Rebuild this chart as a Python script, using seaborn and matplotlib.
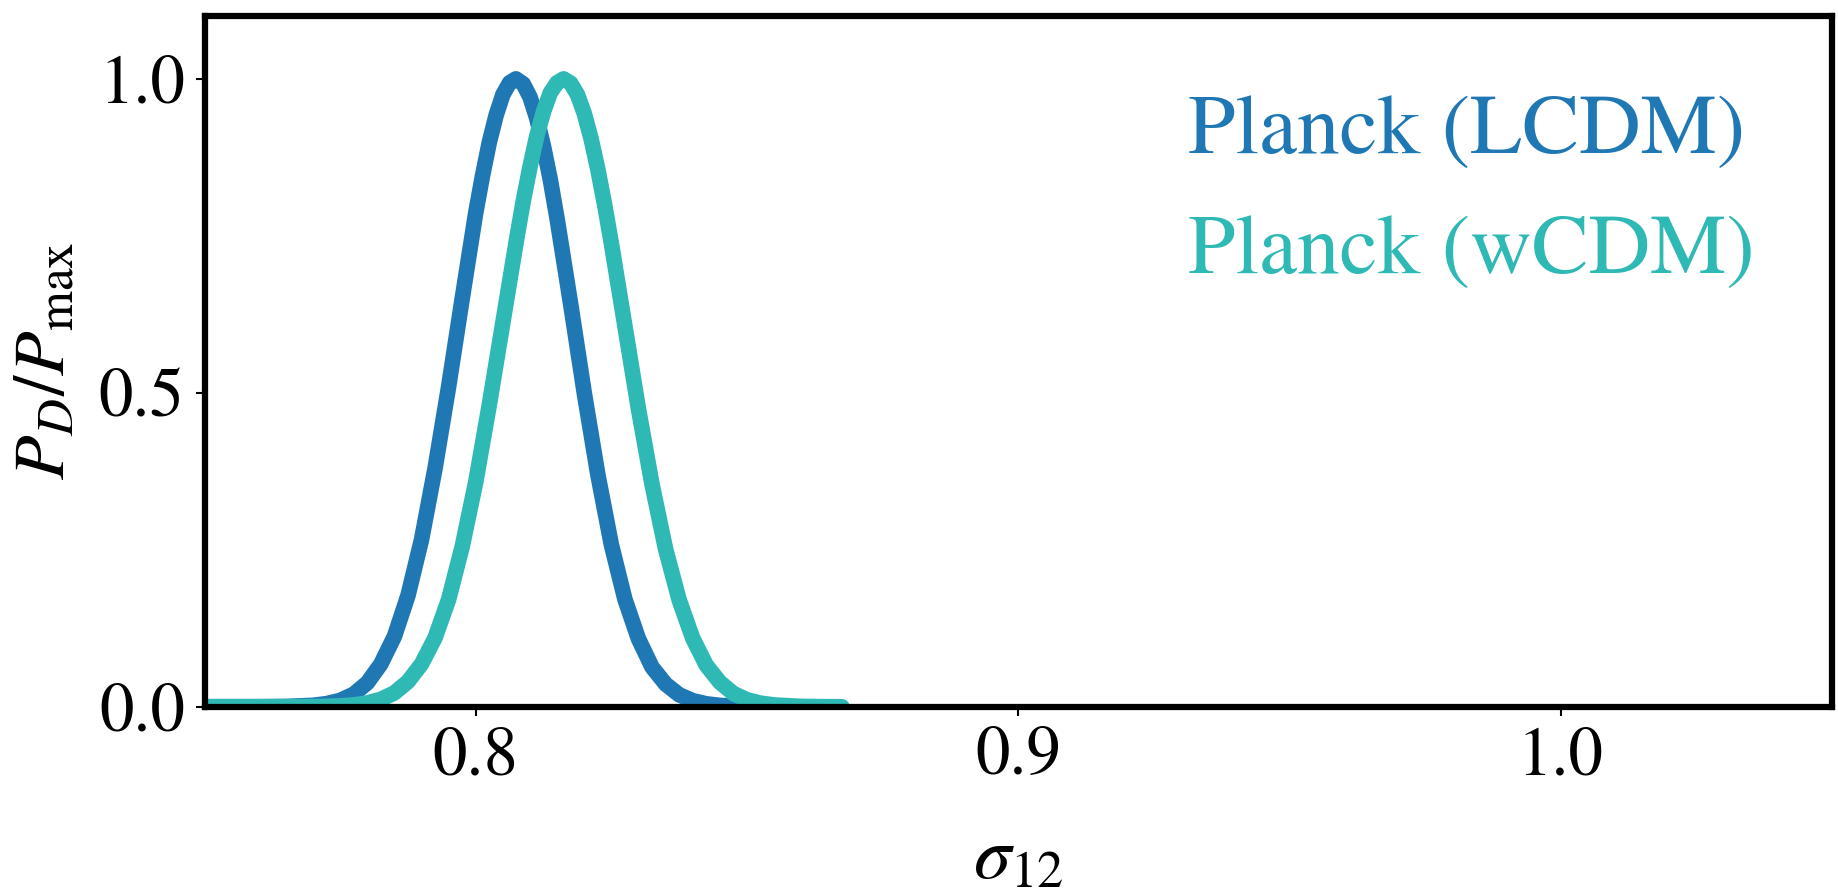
import numpy as np
import pandas as pd
import matplotlib
matplotlib.use("Agg")
import matplotlib.pyplot as plt
import seaborn as sns

# Normalised 1D posteriors of sigma_12
sigma12_lcdm = [0.750, 0.755, 0.760, 0.765, 0.770, 0.7725, 0.775, 0.7775, 0.780,
                0.7825, 0.785, 0.7875, 0.790, 0.7925, 0.795, 0.7975, 0.800, 0.80125,
                0.8025, 0.80375, 0.805, 0.80625, 0.8074, 0.80875, 0.810, 0.81125,
                0.8125, 0.81375, 0.815, 0.8175, 0.820, 0.8225, 0.825, 0.8275, 0.830,
                0.8325, 0.835, 0.8375, 0.840, 0.8425, 0.845, 0.8475]
p_lcdm = [0.000, 0.000, 0.000, 0.0004, 0.0022, 0.0049, 0.010, 0.020, 0.038,
          0.068, 0.112, 0.177, 0.266, 0.380, 0.510, 0.650, 0.787, 0.846,
          0.899, 0.942, 0.975, 0.994, 1.000, 0.992, 0.971, 0.937,
          0.892, 0.839, 0.777, 0.641, 0.500, 0.370, 0.258, 0.171, 0.108,
          0.063, 0.036, 0.019, 0.0096, 0.0046, 0.0021, 0.0009]

sigma12_wcdm = [0.750, 0.760, 0.765, 0.770, 0.7725, 0.775, 0.7775, 0.780, 0.7825,
                0.785, 0.7875, 0.790, 0.7925, 0.795, 0.7975, 0.800, 0.8025, 0.805,
                0.8075, 0.80875, 0.810, 0.81125, 0.8125, 0.81375, 0.815, 0.8162,
                0.8175, 0.81875, 0.820, 0.82125, 0.8225, 0.82375, 0.825, 0.8275,
                0.830, 0.8325, 0.835, 0.8375, 0.840, 0.8425, 0.845, 0.8475, 0.850,
                0.8525, 0.855, 0.860, 0.865, 0.8675]
p_wcdm = [0.000, 0.000, 0.000, 0.0002, 0.0006, 0.0013, 0.0029, 0.006, 0.0117,
          0.022, 0.040, 0.068, 0.110, 0.171, 0.255, 0.358, 0.481, 0.612,
          0.743, 0.805, 0.860, 0.909, 0.948, 0.978, 0.994, 1.000,
          0.993, 0.975, 0.945, 0.905, 0.856, 0.800, 0.738, 0.606,
          0.474, 0.354, 0.251, 0.170, 0.109, 0.066, 0.039, 0.021, 0.011,
          0.0057, 0.0028, 0.0005, 0.000, 0.000]

labels = ["Planck (LCDM)", "Planck (wCDM)"]
colors = ["#1f78b4", "#2fb9b4"]

x_ticks = [0.8, 0.9, 1.0]
y_ticks = [0.0, 0.5, 1.0]

df = pd.concat([
    pd.DataFrame({"sigma12": sigma12_lcdm, "P": p_lcdm, "model": labels[0]}),
    pd.DataFrame({"sigma12": sigma12_wcdm, "P": p_wcdm, "model": labels[1]}),
], ignore_index=True)

sns.set_theme(style="ticks")
plt.rcParams["font.family"] = ["STIXGeneral", "DejaVu Serif"]
plt.rcParams["mathtext.fontset"] = "stix"
plt.rcParams["text.color"] = "black"
plt.rcParams["axes.labelcolor"] = "black"

fig, ax = plt.subplots(figsize=(1838 / 150, 894 / 150), dpi=150)
fig.subplots_adjust(left=0.1113, right=0.9966, bottom=0.2095, top=0.982)

sns.lineplot(data=df, x="sigma12", y="P", hue="model", palette=colors,
             linewidth=7.5, ax=ax, sort=False, legend=True)

ax.set_xlim(0.75, 1.05)
ax.set_ylim(0.0, 1.1)
ax.set_xticks(x_ticks)
ax.set_xticklabels([f"{t:.1f}" for t in x_ticks])
ax.set_yticks(y_ticks)
ax.set_yticklabels([f"{t:.1f}" for t in y_ticks])

for side in ["left", "right", "top", "bottom"]:
    ax.spines[side].set_linewidth(3.0)
    ax.spines[side].set_color("black")
    ax.spines[side].set_visible(True)

ax.tick_params(axis="both", which="major", direction="out", length=4.5,
               width=1.0, labelsize=33, pad=5, color="black", labelcolor="black",
               top=False, right=False)

ax.set_xlabel(r"$\sigma_{12}$", fontsize=36, labelpad=18, color="black")
ax.set_ylabel(r"$P_D/P_{\rm max}$", fontsize=35, labelpad=9, color="black")

leg = ax.legend(loc="upper right", frameon=False, fontsize=41,
                handlelength=0, handletextpad=0, labelcolor="linecolor",
                borderaxespad=0.5)
for h in leg.legend_handles:
    h.set_visible(False)

fig.savefig("out.png", dpi=150, facecolor="white")
